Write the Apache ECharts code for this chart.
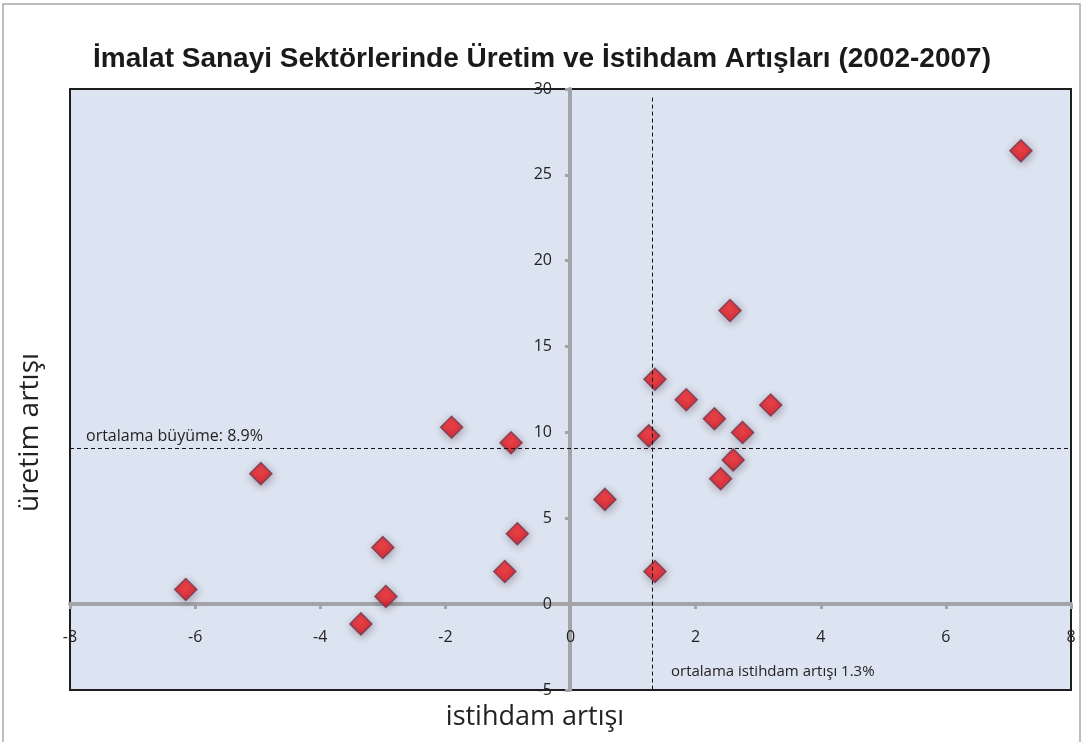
<!DOCTYPE html>
<html>
<head>
<meta charset="utf-8">
<script src="https://cdn.jsdelivr.net/npm/echarts@6/dist/echarts.min.js"></script>
<style>
  html, body { margin: 0; padding: 0; background: #fff; }
  #chart { width: 1084px; height: 742px; }
</style>
</head>
<body>
<div id="chart"></div>
<script>
// istihdam artışı (x) ve üretim artışı (y), sektör başına
const istihdam = [7.2, 2.55, 1.35, 1.85, 3.2, 2.3, 2.75, 1.25, 2.6, 2.4, 0.55, 1.35,
  -1.9, -0.95, -4.95, -0.85, -1.05, -3.0, -2.95, -3.35, -6.15];
const uretim = [26.4, 17.1, 13.1, 11.9, 11.6, 10.8, 10.0, 9.8, 8.4, 7.3, 6.1, 1.9,
  10.3, 9.4, 7.6, 4.1, 1.9, 3.3, 0.45, -1.15, 0.85];
const ortalamaIstihdam = 1.3;
const ortalamaBuyume = 9.1;

const points = istihdam.map((x, i) => [x, uretim[i]]);

const labelFont = '"Open Sans", "DejaVu Sans", sans-serif';

const chart = echarts.init(document.getElementById('chart'));
chart.setOption({
  animation: false,
  backgroundColor: '#fff',
  title: {
    text: 'İmalat Sanayi Sektörlerinde Üretim ve İstihdam Artışları (2002-2007)',
    left: 'center',
    top: 40,
    textStyle: {
      fontFamily: '"Liberation Sans", Arial, sans-serif',
      fontWeight: 'bold',
      fontSize: 28,
      color: '#1a1a1a'
    }
  },
  grid: {
    left: 70,
    right: 13,
    top: 89,
    bottom: 52,
    show: true,
    backgroundColor: '#dde4f1',
    borderColor: '#1e1e1e',
    borderWidth: 2
  },
  xAxis: {
    type: 'value',
    min: -8,
    max: 8,
    interval: 2,
    position: 'bottom',
    offset: -86,
    axisLine: { onZero: false, lineStyle: { color: '#a2a4a8', width: 4 } },
    axisTick: { show: true, length: 5, lineStyle: { color: '#a2a4a8', width: 3 } },
    axisLabel: { margin: 25, fontFamily: labelFont, fontSize: 16, color: '#222' },
    splitLine: { show: false }
  },
  yAxis: {
    type: 'value',
    min: -5,
    max: 30,
    interval: 5,
    position: 'left',
    offset: -500,
    axisLine: { onZero: false, lineStyle: { color: '#a2a4a8', width: 4 } },
    axisTick: { show: true, length: 5, lineStyle: { color: '#a2a4a8', width: 3 } },
    axisLabel: { margin: 18, fontFamily: labelFont, fontSize: 16, color: '#222' },
    splitLine: { show: false }
  },
  graphic: [
    {
      type: 'rect',
      shape: { x: 3, y: 4, width: 1077, height: 760 },
      style: { fill: 'none', stroke: '#a8a8a8', lineWidth: 1.5 },
      z: -1
    },
    {
      type: 'text',
      x: 535,
      y: 704,
      style: { text: 'istihdam artışı', font: '27px ' + labelFont, fill: '#222', align: 'center' }
    },
    {
      type: 'text',
      x: 16,
      y: 512,
      rotation: Math.PI / 2,
      style: { text: 'üretim artışı', font: '28px ' + labelFont, fill: '#222' }
    },
    {
      type: 'text',
      x: 671,
      y: 664,
      style: { text: 'ortalama istihdam artışı 1.3%', font: '15px ' + labelFont, fill: '#222' }
    }
  ],
  series: [{
    type: 'scatter',
    data: points,
    symbol: 'diamond',
    symbolSize: 22,
    itemStyle: {
      color: {
        type: 'radial', x: 0.5, y: 0.45, r: 0.6,
        colorStops: [
          { offset: 0, color: '#ff2a2a' },
          { offset: 0.7, color: '#e4101c' },
          { offset: 1, color: '#a80a1e' }
        ]
      },
      borderColor: '#6e3a4e',
      borderWidth: 1.5,
      shadowBlur: 8,
      shadowOffsetX: 1,
      shadowOffsetY: 2,
      shadowColor: 'rgba(60,20,40,0.4)'
    },
    markLine: {
      silent: true,
      symbol: 'none',
      lineStyle: { color: '#111', type: [4, 3], width: 1 },
      data: [
        {
          yAxis: ortalamaBuyume,
          label: {
            show: true,
            position: 'insideStartTop',
            distance: [16, 3],
            formatter: 'ortalama büyüme: 8.9%',
            fontFamily: labelFont,
            fontSize: 16,
            color: '#222'
          }
        },
        [
          { coord: [ortalamaIstihdam, 29.5], label: { show: false } },
          { coord: [ortalamaIstihdam, -5] }
        ]
      ]
    }
  }]
});
</script>
</body>
</html>
